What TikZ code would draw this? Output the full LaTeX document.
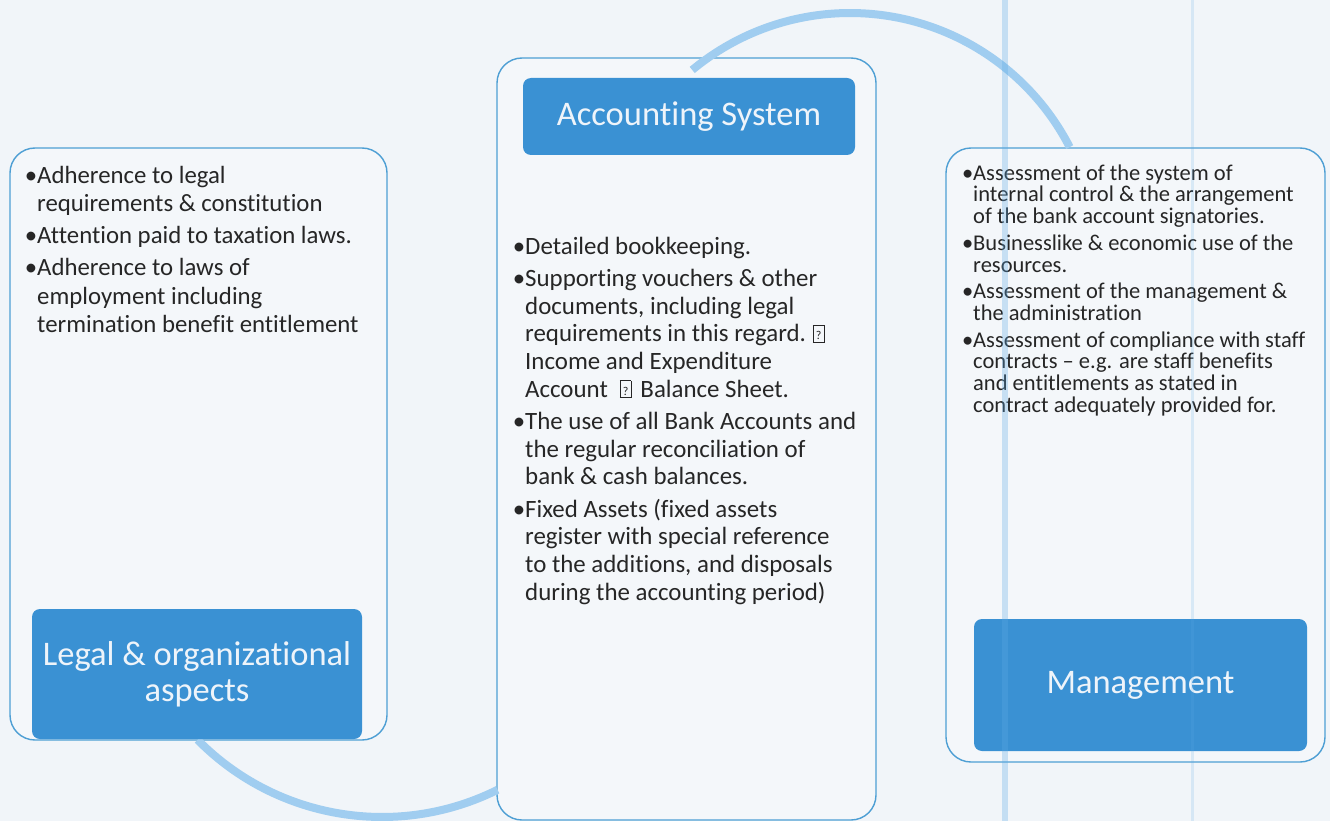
\documentclass[tikz,border=0pt]{standalone}
\usepackage{fontspec}
\setmainfont{Carlito}[Ligatures=NoCommon]

\definecolor{paper}{HTML}{F1F5F9}
\definecolor{panelfill}{HTML}{F4F7FA}
\definecolor{frame}{HTML}{4E9FD4}
\definecolor{headfill}{HTML}{3A91D3}
\definecolor{headtext}{HTML}{EEF4FA}
\definecolor{ringcol}{HTML}{A0CDF0}
\definecolor{ink}{HTML}{262626}
\definecolor{stripe}{HTML}{5DAAE6}

% bullet hanging in the left margin of a line
\newcommand\bl{\llap{•}}
% fixes the height of the first line so the block top is predictable
\newcommand\topstrut{\rule{0pt}{1em}}
% framed question mark used in the bookkeeping list
\newcommand\qmark{{\setlength\fboxsep{0pt}\setlength\fboxrule{0.8pt}%
  \fbox{\makebox[10pt]{\rule{0pt}{16pt}\raisebox{2pt}{\fontsize{12}{12}\selectfont ?}}}}}

\begin{document}
\begin{tikzpicture}[x=1pt,y=-1pt,
  panel/.style={draw=frame, line width=1.4pt, fill=panelfill, rounded corners=25pt, inner sep=0pt},
  header/.style={fill=headfill, rounded corners=8pt, inner sep=0pt, text=headtext,
    font=\fontsize{34.5}{36}\selectfont, align=center},
  ring/.style={draw=ringcol, line width=8pt},
  body/.style={anchor=north west, inner sep=0pt, text=ink, align=left}]

\useasboundingbox (0,0) rectangle (1330,821);
\fill[paper] (0,0) rectangle (1330,821);

% outer panels
\node[panel, minimum width=377pt, minimum height=592pt] (legal) at (198.5,444) {};
\node[panel, minimum width=379pt, minimum height=762pt] (acct) at (686.5,439) {};
\node[panel, minimum width=379pt, minimum height=614pt] (mgmt) at (1135.5,455) {};

% linking arcs
\coordinate (hubT) at (850,260);
\coordinate (hubB) at (382,558);
\draw[ring] ([shift={(-129.7:247)}]hubT) arc[start angle=-129.7, end angle=-27.2, radius=247];
\draw[ring] ([shift={(135.4:259)}]hubB) arc[start angle=135.4, end angle=63.5, radius=259];

% headers
\node[header, minimum width=330pt, minimum height=130pt] (legalhead) at (197,674)
  {Legal \& organizational\\aspects};
\node[header, minimum width=332pt, minimum height=77pt] (accthead) at (689,116.5)
  {Accounting System};
\node[header, minimum width=333pt, minimum height=132pt] (mgmthead) at (1140.5,685)
  {Management};

% lists
\node[body, font=\fontsize{24.8}{28.5}\selectfont] (legaltext) at (37,158.2)
  {\topstrut\bl Adherence to legal\\
   requirements \& constitution\\[3.5pt]
   \bl Attention paid to taxation laws.\\[3.5pt]
   \bl Adherence to laws of\\
   employment including\\
   termination benefit entitlement};

\node[body, font=\fontsize{24.9}{27.6}\selectfont] (accttext) at (525,229.1)
  {\topstrut\bl Detailed bookkeeping.\\[4.9pt]
   \bl Supporting vouchers \& other\\
   documents, including legal\\
   requirements in this regard.\hspace{7pt}\qmark\\
   Income and Expenditure\\
   Account\hspace{12pt}\qmark\hspace{9pt}Balance Sheet.\\[4.9pt]
   \bl The use of all Bank Accounts and\\
   the regular reconciliation of\\
   bank \& cash balances.\\[4.9pt]
   \bl Fixed Assets (fixed assets\\
   register with special reference\\
   to the additions, and disposals\\
   during the accounting period)};

\node[body, font=\fontsize{22.5}{21.7}\selectfont] (mgmttext) at (973,157.5)
  {\topstrut\bl Assessment of the system of\\
   internal control \& the arrangement\\
   of the bank account signatories.\\[5pt]
   \bl Businesslike \& economic use of the\\
   resources.\\[5pt]
   \bl Assessment of the management \&\\
   the administration\\[5pt]
   \bl Assessment of compliance with staff\\
   contracts – e.g. are staff benefits\\
   and entitlements as stated in\\
   contract adequately provided for.};

% faint vertical bands across the right side
\fill[stripe, opacity=0.3] (1002,0) rectangle (1008,821);
\fill[stripe, opacity=0.18] (1191,0) rectangle (1194,821);
\end{tikzpicture}
\end{document}
